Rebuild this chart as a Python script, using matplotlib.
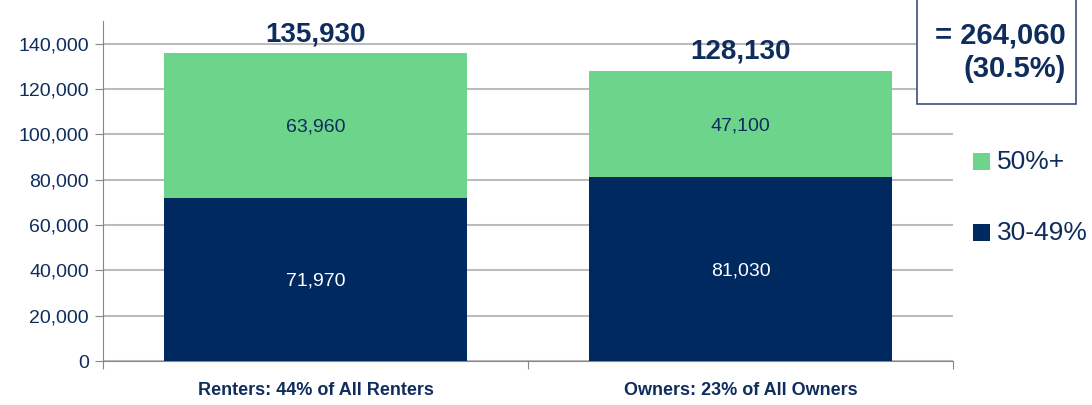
import matplotlib.pyplot as plt
from matplotlib import font_manager
from matplotlib.patches import Rectangle

categories = ['Renters: 44% of All Renters', 'Owners: 23% of All Owners']
low_band = [71970, 81030]     # 30-49%
high_band = [63960, 47100]    # 50%+
totals = [135930, 128130]
grand_total = '= 264,060\n(30.5%)'

navy = '#00295F'
green = '#6CD58B'
text_col = '#0F2D5C'

names = {f.name for f in font_manager.fontManager.ttflist}
font = 'Liberation Sans Narrow' if 'Liberation Sans Narrow' in names else 'Liberation Sans'
plt.rcParams['font.family'] = [font, 'DejaVu Sans']

fig = plt.figure(figsize=(10.92, 4.05), dpi=100)
ax = fig.add_axes([0.0943, 0.1086, 0.7784, 0.8394])

x = [0, 1]
ax.bar(x, low_band, width=0.715, color=navy, zorder=3)
ax.bar(x, high_band, width=0.715, bottom=low_band, color=green, zorder=3)

for i in x:
    ax.text(i, low_band[i] / 2, f'{low_band[i]:,}', ha='center', va='center_baseline',
            color='white', fontsize=14, zorder=4)
    ax.text(i, low_band[i] + high_band[i] / 2, f'{high_band[i]:,}', ha='center',
            va='center_baseline', color=text_col, fontsize=14, zorder=4)
    ax.text(i, totals[i] + 2500, f'{totals[i]:,}', ha='center', va='bottom',
            color=text_col, fontsize=20, fontweight='bold', zorder=4)

ax.set_xlim(-0.5, 1.5)
ax.set_ylim(0, 150000)
ax.set_yticks(range(0, 140001, 20000))
ax.set_yticklabels([f'{v:,}' for v in range(0, 140001, 20000)], color=text_col, fontsize=14)
ax.set_xticks([-0.5, 0.5, 1.5], minor=False)
ax.set_xticklabels([])
ax.set_xticks(x, minor=True)
ax.set_xticklabels(categories, minor=True, color=text_col, fontsize=13, fontweight='bold')
ax.tick_params(axis='x', which='minor', length=0, pad=15)
ax.tick_params(axis='x', which='major', length=6, color='#888888', direction='out')
ax.tick_params(axis='y', length=6, color='#888888', pad=4)
ax.yaxis.grid(True, color='#BBBBBB', linewidth=1.5, zorder=0)
for s in ['top', 'right']:
    ax.spines[s].set_visible(False)
ax.spines['left'].set_color('#888888')
ax.spines['bottom'].set_color('#888888')

# total box at top right
fig.patches.append(Rectangle((917 / 1092, 1 - 104 / 405), 159 / 1092, 104 / 405 + 0.01,
                             transform=fig.transFigure, facecolor='white',
                             edgecolor='#3A4F7A', linewidth=1.2, zorder=5))
fig.text(1066 / 1092, 1 - 52 / 405, grand_total, ha='right', va='center', color=text_col,
         fontsize=21, fontweight='bold', linespacing=1.25, zorder=6)

# legend
for label, col, yc in [('50%+', green, 162), ('30-49%', navy, 233)]:
    fig.patches.append(Rectangle((973 / 1092, 1 - (yc + 8) / 405), 17 / 1092, 17 / 405,
                                 transform=fig.transFigure, facecolor=col, zorder=5))
    fig.text(997 / 1092, 1 - yc / 405, label, ha='left', va='center', color=text_col,
             fontsize=19, zorder=6)

fig.savefig('out.png', dpi=100)
